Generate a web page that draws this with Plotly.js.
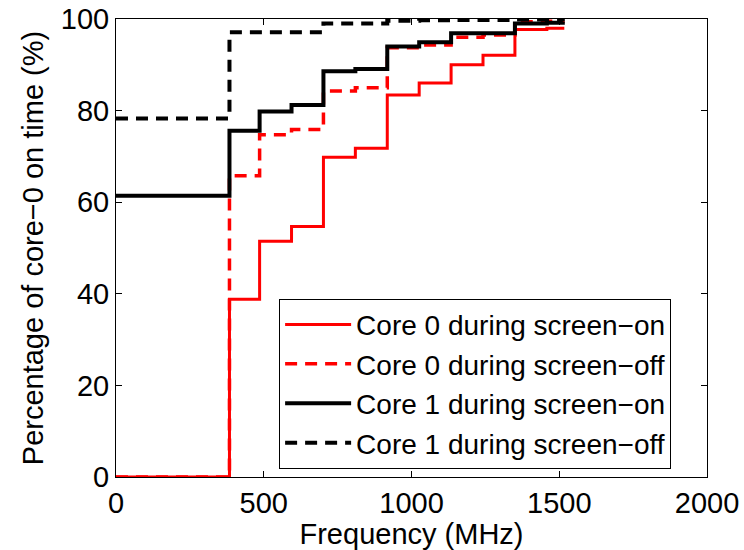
<!DOCTYPE html>
<html>
<head>
<meta charset="utf-8">
<script src="https://cdn.plot.ly/plotly-3.0.1.min.js"></script>
<style>html,body{margin:0;padding:0;background:#fff;}#chart{width:744px;height:550px;}</style>
</head>
<body>
<div id="chart"></div>
<script>
// CPU frequency steps (MHz)
const freqs = [0, 384, 486, 594, 702, 810, 918, 1026, 1134, 1242, 1350, 1458, 1512];
// Cumulative percentage of on-time at or below each frequency
const core0On  = [0, 38.8, 51.5, 54.7, 69.8, 71.8, 83.4, 86.0, 90.0, 92.1, 97.7, 98.0, 98.3];
const core0Off = [0, 65.8, 74.7, 75.9, 84.3, 85.0, 93.7, 94.3, 96.0, 96.5, 99.4, 99.5, 99.6];
const core1On  = [61.4, 75.6, 79.8, 81.2, 88.6, 89.1, 94.0, 94.9, 96.9, 96.9, 99.0, 99.2, 99.4];
const core1Off = [78.3, 97.1, 97.1, 97.1, 99.0, 99.0, 99.6, 99.7, 99.8, 99.8, 99.9, 99.9, 100];
const seriesNames = ["Core 0 during screen\u2212on", "Core 0 during screen\u2212off",
                     "Core 1 during screen\u2212on", "Core 1 during screen\u2212off"];
const xTicks = [0, 500, 1000, 1500, 2000];
const yTicks = [0, 20, 40, 60, 80, 100];

const mk = (y, name, color, dash, width) => ({
  x: freqs, y: y, name: name, type: 'scatter', mode: 'lines',
  line: {shape: 'hv', color: color, dash: dash, width: width}
});
const data = [
  mk(core0On, seriesNames[0], '#ff0000', 'solid', 3),
  mk(core0Off, seriesNames[1], '#ff0000', '12px,8px', 3.5),
  mk(core1On, seriesNames[2], '#000000', 'solid', 4),
  mk(core1Off, seriesNames[3], '#000000', '12px,8px', 4)
];
const font = {family: '"Liberation Sans", Arial, sans-serif', size: 29, color: '#000'};
const layout = {
  width: 744, height: 550,
  margin: {l: 116, r: 37, t: 19, b: 73},
  paper_bgcolor: '#fff', plot_bgcolor: '#fff',
  font: font,
  showlegend: true,
  legend: {
    x: 0.276, y: 0.018, xanchor: 'left', yanchor: 'bottom',
    bgcolor: '#fff', bordercolor: '#000', borderwidth: 1,
    font: {family: font.family, size: 28, color: '#000'},
    tracegroupgap: 0, itemwidth: 66
  },
  xaxis: {
    range: [0, 2000], tickvals: xTicks, ticktext: xTicks.map(String),
    ticks: 'inside', ticklen: 6, tickcolor: '#000', mirror: 'ticks',
    showline: true, linecolor: '#000', linewidth: 1, showgrid: false, zeroline: false,
    title: {text: 'Frequency (MHz)', font: font, standoff: 0},
    tickfont: font
  },
  yaxis: {
    range: [0, 100], tickvals: yTicks, ticktext: yTicks.map(String),
    ticks: 'inside', ticklen: 6, tickcolor: '#000', mirror: 'ticks',
    showline: true, linecolor: '#000', linewidth: 1, showgrid: false, zeroline: false,
    title: {text: 'Percentage of core\u22120 on time (%)', font: font, standoff: 8},
    tickfont: font
  }
};
Plotly.newPlot('chart', data, layout, {displayModeBar: false, staticPlot: true});
</script>
</body>
</html>
